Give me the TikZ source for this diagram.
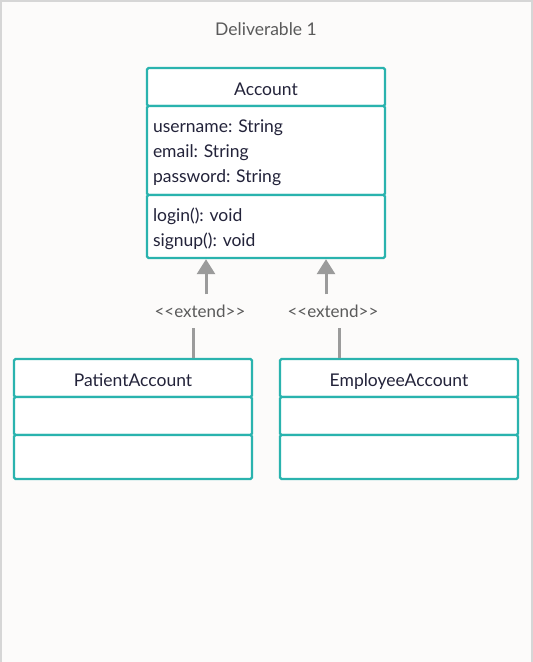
\documentclass[tikz,border=0pt]{standalone}
\usepackage{fontspec}
\setmainfont{Lato}
\usetikzlibrary{arrows.meta}
\frenchspacing

\definecolor{pagebg}{HTML}{FCFBFA}
\definecolor{frameg}{HTML}{D6D6D6}
\definecolor{teal}{HTML}{2AB3AE}
\definecolor{ink}{HTML}{23233A}
\definecolor{relg}{HTML}{9B9B9B}
\definecolor{lblg}{HTML}{5A5A5A}

\tikzset{
  part/.style={rectangle, draw=teal, fill=white, line width=2.4pt, rounded corners=1.5pt,
    minimum width=238, text=ink, font=\fontsize{17.5}{25}\selectfont},
  headpart/.style={part, minimum height=38, text height=16pt, text depth=0pt},
  listpart/.style={part, text width=226, align=left, inner xsep=6,
    execute at begin node={\rule{0pt}{18pt}}},
  extlbl/.style={text=lblg, font=\fontsize{17}{19}\selectfont, inner sep=0, minimum height=33},
  rel/.style={draw=relg, line width=3pt},
  relarrow/.style={rel, -{Triangle[width=18pt,length=15pt]}}
}

\begin{document}
\begin{tikzpicture}[x=1pt,y=-1pt]
% page
\fill[pagebg] (0,0) rectangle (533,662);
\useasboundingbox (0,0) rectangle (533,662);
\draw[frameg, line width=2.5pt] (1,662) -- (1,1) -- (532,1) -- (532,662);

\node[text=lblg, font=\fontsize{17.5}{20}\selectfont] (title) at (266,29) {Deliverable 1};

%%%%%%%%%%%%%%%%%%%% Account %%%%%%%%%%%%%%%%%%%%
\node[headpart] (acchead) at (266,87) {Account};
\node[listpart, minimum height=89] (accattr) at (266,150.5) {username: String\\email: String\\password: String};
\node[listpart, minimum height=63] (accmeth) at (266,226.5) {login(): void\\signup(): void};

%%%%%%%%%%%%%%%%%%%% Sub classes %%%%%%%%%%%%%%%%%%%%
\foreach \name/\cx/\txt in {pa/133/PatientAccount, ea/399/EmployeeAccount}
{
    \node[headpart] (\name head) at (\cx,378) {\txt};
    \node[part, minimum height=38] (\name attr) at (\cx,416) {};
    \node[part, minimum height=44] (\name meth) at (\cx,457) {};
}

%%%%%%%%%%%%%%%%%%%% extend relations %%%%%%%%%%%%%%%%%%%%
\node[extlbl] (ext1) at (200,311) {{<}{<}extend{>}{>}};
\node[extlbl] (ext2) at (333,311) {{<}{<}extend{>}{>}};

\draw[rel] ([xshift=60]pahead.north) -- ([xshift=60]pahead.north |- ext1.south);
\draw[relarrow] ([xshift=-60]accmeth.south |- ext1.north) -- ([xshift=-60]accmeth.south);
\draw[rel] ([xshift=-60]eahead.north) -- ([xshift=-60]eahead.north |- ext2.south);
\draw[relarrow] ([xshift=60]accmeth.south |- ext2.north) -- ([xshift=60]accmeth.south);

\end{tikzpicture}
\end{document}
